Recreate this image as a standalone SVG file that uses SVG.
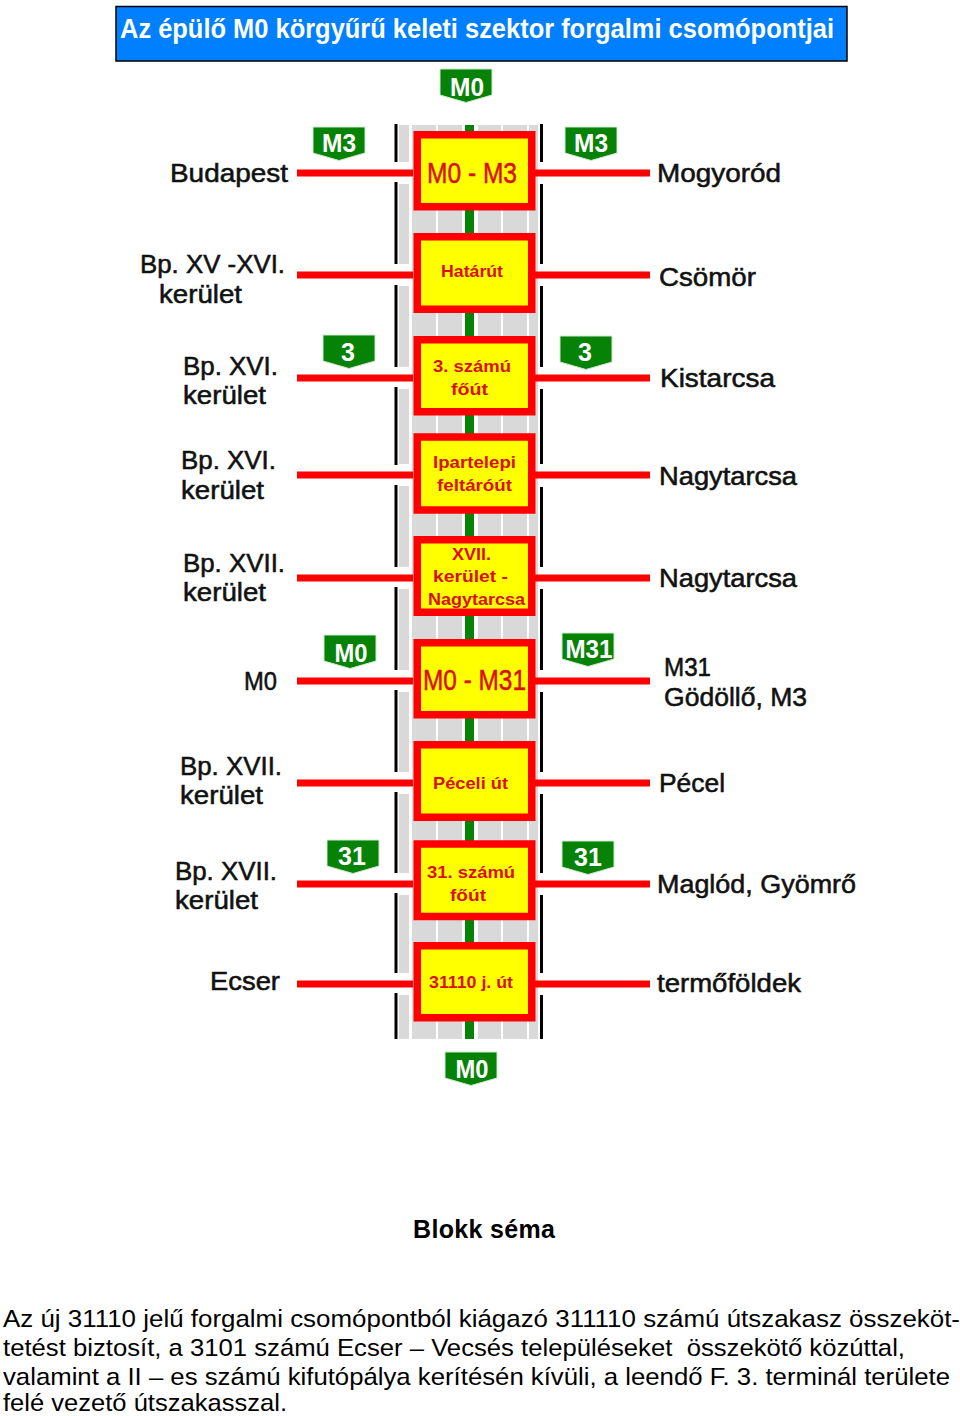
<svg xmlns="http://www.w3.org/2000/svg" width="960" height="1416" viewBox="0 0 960 1416">
<style>
text{font-family:"Liberation Sans",Arial,sans-serif}
.lb{font-size:26px;fill:#111;stroke:#111;stroke-width:.55}
.bh{font-size:29px;fill:#d81010;stroke:#d81010;stroke-width:.5}
.bs{font-size:17px;font-weight:bold;fill:#d81010}
.sg{font-size:25px;font-weight:bold;fill:#fff;text-anchor:middle}
.shield{fill:#068206;stroke:#cfe6cf;stroke-width:1;stroke-linejoin:round}
.box{fill:#ffff00;stroke:#ff0000;stroke-width:7.5}
.par{font-size:24.8px;fill:#000}
.gray{fill:#d9d9d9}
.green{fill:#068206}
.edge{fill:#000}
.link{fill:#ff0000}
</style>
<defs>
<path id="s" d="M0 0H52V26Q38 30 26 33.500Q14 30 0 26Z" class="shield"/>
</defs>
<g id="title">
<rect x="116" y="6.500" width="731" height="54.500" fill="#0080ff" stroke="#000" stroke-width="1.500"/>
<text x="120" y="38" font-size="27" font-weight="bold" fill="#fff" textLength="714" lengthAdjust="spacingAndGlyphs">Az épülő M0 körgyűrű keleti szektor forgalmi csomópontjai</text>
</g>
<g id="road">
<rect class="gray" x="412" y="125" width="24" height="914"/>
<rect class="gray" x="438" y="125" width="24" height="914"/>
<rect class="gray" x="478" y="125" width="23" height="914"/>
<rect class="gray" x="503" y="125" width="24" height="914"/>
<rect class="gray" x="529" y="125" width="9" height="914"/>
<rect class="green" x="465" y="125" width="9" height="914"/>
<path class="gray" d="M399 125h10v37h-10zM399 184h10v80h-10zM399 286h10v81h-10zM399 389h10v75h-10zM399 486h10v81h-10zM399 589h10v81h-10zM399 692h10v80h-10zM399 794h10v79h-10zM399 895h10v78h-10zM399 995h10v44h-10z"/>
<path class="edge" d="M394.500 124h3v38h-3zM394.500 182h3v82h-3zM394.500 285h3v82h-3zM394.500 387h3v78h-3zM394.500 485h3v82h-3zM394.500 587h3v83h-3zM394.500 690h3v82h-3zM394.500 792h3v81h-3zM394.500 893h3v80h-3zM394.500 993h3v46h-3z"/>
<path class="edge" d="M540 124h3v38h-3zM540 184h3v80h-3zM540 286h3v81h-3zM540 389h3v75h-3zM540 487h3v80h-3zM540 589h3v81h-3zM540 692h3v80h-3zM540 794h3v79h-3zM540 895h3v78h-3zM540 995h3v44h-3z"/>
</g>
<g id="connectors">
<rect class="link" x="297" y="169.500" width="116" height="7"/><rect class="link" x="535" y="169.500" width="115" height="7"/>
<rect class="link" x="297" y="271.500" width="116" height="7"/><rect class="link" x="535" y="271.500" width="115" height="7"/>
<rect class="link" x="297" y="374.500" width="116" height="7"/><rect class="link" x="535" y="374.500" width="115" height="7"/>
<rect class="link" x="297" y="471.500" width="116" height="7"/><rect class="link" x="535" y="471.500" width="115" height="7"/>
<rect class="link" x="297" y="574.500" width="116" height="7"/><rect class="link" x="535" y="574.500" width="115" height="7"/>
<rect class="link" x="297" y="677.500" width="116" height="7"/><rect class="link" x="535" y="677.500" width="115" height="7"/>
<rect class="link" x="297" y="779.500" width="116" height="7"/><rect class="link" x="535" y="779.500" width="115" height="7"/>
<rect class="link" x="297" y="880.500" width="116" height="7"/><rect class="link" x="535" y="880.500" width="115" height="7"/>
<rect class="link" x="297" y="980.500" width="116" height="7"/><rect class="link" x="535" y="980.500" width="115" height="7"/>
</g>
<g id="node-m0-m3"><rect class="box" x="417.250" y="134.750" width="114.500" height="72"/><text class="bh" x="427" y="183" textLength="90" lengthAdjust="spacingAndGlyphs">M0 - M3</text></g>
<g id="node-hatarut"><rect class="box" x="417.250" y="236.750" width="114.500" height="72.500"/><text class="bs" x="441" y="277" textLength="62" lengthAdjust="spacingAndGlyphs">Határút</text></g>
<g id="node-3"><rect class="box" x="417.250" y="339.750" width="114.500" height="72"/><text class="bs" x="433" y="372" textLength="78" lengthAdjust="spacingAndGlyphs">3. számú</text><text class="bs" x="451" y="395" textLength="37" lengthAdjust="spacingAndGlyphs">főút</text></g>
<g id="node-ipartelepi"><rect class="box" x="417.250" y="437" width="114.500" height="73"/><text class="bs" x="433" y="468" textLength="83" lengthAdjust="spacingAndGlyphs">Ipartelepi</text><text class="bs" x="437" y="491" textLength="75" lengthAdjust="spacingAndGlyphs">feltáróút</text></g>
<g id="node-xvii"><rect class="box" x="417.250" y="539.750" width="114.500" height="72.500"/><text class="bs" x="452" y="560" textLength="39" lengthAdjust="spacingAndGlyphs">XVII.</text><text class="bs" x="433" y="582" textLength="75" lengthAdjust="spacingAndGlyphs">kerület -</text><text class="bs" x="428" y="605" textLength="97" lengthAdjust="spacingAndGlyphs">Nagytarcsa</text></g>
<g id="node-m0-m31"><rect class="box" x="417.250" y="642.750" width="114.500" height="72"/><text class="bh" x="423" y="690" textLength="103" lengthAdjust="spacingAndGlyphs">M0 - M31</text></g>
<g id="node-peceli"><rect class="box" x="417.250" y="744.750" width="114.500" height="72.500"/><text class="bs" x="433" y="789" textLength="75" lengthAdjust="spacingAndGlyphs">Péceli út</text></g>
<g id="node-31"><rect class="box" x="417.250" y="844" width="114.500" height="72.500"/><text class="bs" x="427" y="878" textLength="88" lengthAdjust="spacingAndGlyphs">31. számú</text><text class="bs" x="450" y="901" textLength="36" lengthAdjust="spacingAndGlyphs">főút</text></g>
<g id="node-31110"><rect class="box" x="417.250" y="945.750" width="114.500" height="72"/><text class="bs" x="429" y="988" textLength="84" lengthAdjust="spacingAndGlyphs">31110 j. út</text></g>
<g id="sign-m0-top"><use href="#s" x="440" y="69"/><text class="sg" x="467" y="96" textLength="34" lengthAdjust="spacingAndGlyphs">M0</text></g>
<g id="sign-m3-l"><use href="#s" x="313" y="127"/><text class="sg" x="339" y="152" textLength="34" lengthAdjust="spacingAndGlyphs">M3</text></g>
<g id="sign-m3-r"><use href="#s" x="565" y="127"/><text class="sg" x="591" y="152" textLength="34" lengthAdjust="spacingAndGlyphs">M3</text></g>
<g id="sign-3-l"><use href="#s" x="323" y="335"/><text class="sg" x="348" y="361">3</text></g>
<g id="sign-3-r"><use href="#s" x="560" y="336"/><text class="sg" x="585" y="361">3</text></g>
<g id="sign-m0-l"><use href="#s" x="324" y="635"/><text class="sg" x="351" y="662" textLength="33" lengthAdjust="spacingAndGlyphs">M0</text></g>
<g id="sign-m31-r"><use href="#s" x="562" y="633"/><text class="sg" x="589" y="658" textLength="47" lengthAdjust="spacingAndGlyphs">M31</text></g>
<g id="sign-31-l"><use href="#s" x="327" y="840"/><text class="sg" x="352" y="865">31</text></g>
<g id="sign-31-r"><use href="#s" x="562" y="841"/><text class="sg" x="588" y="866">31</text></g>
<g id="sign-m0-bottom"><use href="#s" x="445" y="1052"/><text class="sg" x="472" y="1078" textLength="33" lengthAdjust="spacingAndGlyphs">M0</text></g>
<g id="labels-left">
<text class="lb" x="170" y="182" textLength="118" lengthAdjust="spacingAndGlyphs">Budapest</text>
<text class="lb" x="140" y="273" textLength="145" lengthAdjust="spacingAndGlyphs">Bp. XV -XVI.</text>
<text class="lb" x="159" y="303" textLength="83" lengthAdjust="spacingAndGlyphs">kerület</text>
<text class="lb" x="183" y="375" textLength="95" lengthAdjust="spacingAndGlyphs">Bp. XVI.</text>
<text class="lb" x="183" y="404" textLength="83" lengthAdjust="spacingAndGlyphs">kerület</text>
<text class="lb" x="181" y="469" textLength="95" lengthAdjust="spacingAndGlyphs">Bp. XVI.</text>
<text class="lb" x="181" y="499" textLength="83" lengthAdjust="spacingAndGlyphs">kerület</text>
<text class="lb" x="183" y="572" textLength="102" lengthAdjust="spacingAndGlyphs">Bp. XVII.</text>
<text class="lb" x="183" y="601" textLength="83" lengthAdjust="spacingAndGlyphs">kerület</text>
<text class="lb" x="244" y="690" textLength="33" lengthAdjust="spacingAndGlyphs">M0</text>
<text class="lb" x="180" y="775" textLength="102" lengthAdjust="spacingAndGlyphs">Bp. XVII.</text>
<text class="lb" x="180" y="804" textLength="83" lengthAdjust="spacingAndGlyphs">kerület</text>
<text class="lb" x="175" y="880" textLength="102" lengthAdjust="spacingAndGlyphs">Bp. XVII.</text>
<text class="lb" x="175" y="909" textLength="83" lengthAdjust="spacingAndGlyphs">kerület</text>
<text class="lb" x="210" y="990" textLength="70" lengthAdjust="spacingAndGlyphs">Ecser</text>
</g>
<g id="labels-right">
<text class="lb" x="657" y="182" textLength="124" lengthAdjust="spacingAndGlyphs">Mogyoród</text>
<text class="lb" x="659" y="286" textLength="97" lengthAdjust="spacingAndGlyphs">Csömör</text>
<text class="lb" x="660" y="387" textLength="115" lengthAdjust="spacingAndGlyphs">Kistarcsa</text>
<text class="lb" x="659" y="485" textLength="138" lengthAdjust="spacingAndGlyphs">Nagytarcsa</text>
<text class="lb" x="659" y="587" textLength="138" lengthAdjust="spacingAndGlyphs">Nagytarcsa</text>
<text class="lb" x="664" y="676" textLength="47" lengthAdjust="spacingAndGlyphs">M31</text>
<text class="lb" x="664" y="706" textLength="143" lengthAdjust="spacingAndGlyphs">Gödöllő, M3</text>
<text class="lb" x="659" y="792" textLength="66" lengthAdjust="spacingAndGlyphs">Pécel</text>
<text class="lb" x="657" y="893" textLength="199" lengthAdjust="spacingAndGlyphs">Maglód, Gyömrő</text>
<text class="lb" x="657" y="992" textLength="144" lengthAdjust="spacingAndGlyphs">termőföldek</text>
</g>
<g id="caption">
<text x="413" y="1238" font-size="25" font-weight="bold" fill="#000" textLength="142">Blokk séma</text>
<text class="par" x="3" y="1327" textLength="957" lengthAdjust="spacingAndGlyphs">Az új 31110 jelű forgalmi csomópontból kiágazó 311110 számú útszakasz összeköt-</text>
<text class="par" x="3" y="1356" textLength="902" lengthAdjust="spacingAndGlyphs" xml:space="preserve">tetést biztosít, a 3101 számú Ecser – Vecsés településeket  összekötő közúttal,</text>
<text class="par" x="3" y="1385" textLength="947" lengthAdjust="spacingAndGlyphs">valamint a II – es számú kifutópálya kerítésén kívüli, a leendő F. 3. terminál területe</text>
<text class="par" x="3" y="1411" textLength="284" lengthAdjust="spacingAndGlyphs">felé vezető útszakasszal.</text>
</g>
</svg>
